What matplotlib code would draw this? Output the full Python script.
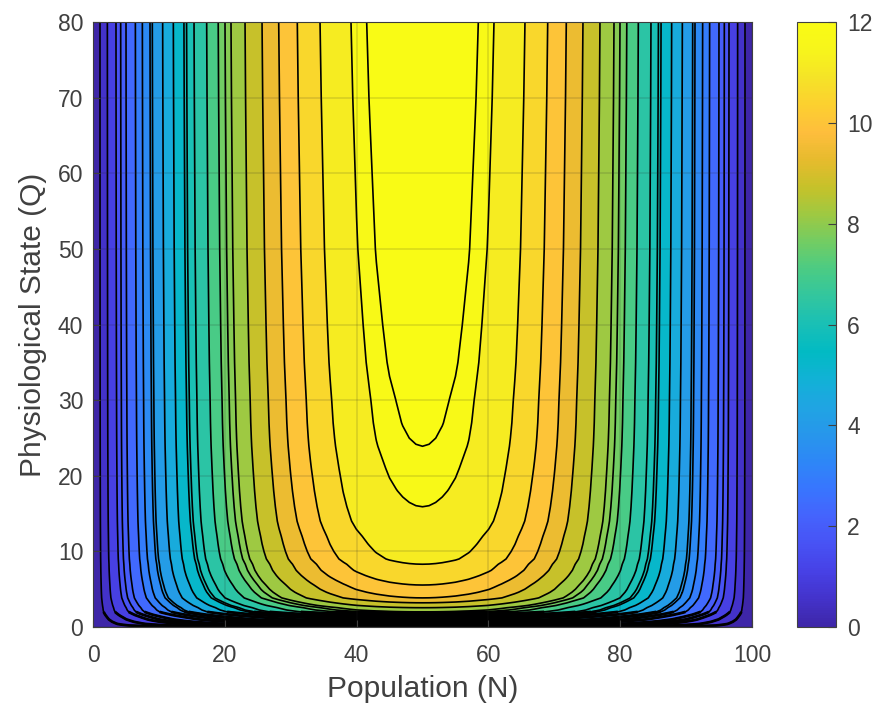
import numpy as np
import matplotlib
matplotlib.use('Agg')
import matplotlib.pyplot as plt
from matplotlib.colors import LinearSegmentedColormap, Normalize
from matplotlib.cm import ScalarMappable

plt.rcParams['font.family'] = ['Liberation Sans', 'DejaVu Sans']

# Values
levels = [0.52, 1.06, 1.67, 1.99, 2.35, 2.97, 3.42, 3.9, 4.05, 4.68, 5.29, 5.88, 6.02,
          6.4, 7.05, 7.6, 7.91, 8.17, 8.75, 9.42, 10.0, 10.57, 11.16, 11.78, 12.0]
# profile along the top edge (Q = 80), left half, mirrored below
n_left = [0, 1.06, 2.18, 3.49, 4.2, 5.01, 6.43, 7.49, 8.65, 9.0, 10.57, 12.19, 13.8,
          14.2, 15.33, 17.25, 19.0, 20.03, 20.94, 23.07, 25.65, 28.18, 31.0, 34.45,
          39.15, 41.53]
z_left = [0] + levels
n_centre = [30, 33, 36, 37, 38, 40, 42, 43, 44, 45, 46, 47, 48, 49, 50]
z_centre = [10.38, 10.93, 11.39, 11.52, 11.65, 11.87, 12.04, 12.12, 12.18, 12.24, 12.28,
            12.315, 12.34, 12.355, 12.36]
# profile along N = 50
q_vals = [0, 0.1, 0.2, 0.4, 0.7, 1.0, 1.3, 1.6, 1.8, 2.0, 2.25, 2.55, 2.85, 3.2, 3.85, 4.6,
          5.0, 5.55, 6.2, 6.8, 7.5, 8.3, 9, 10, 11, 12, 13, 14, 15.9, 18, 21, 23.9, 25, 27,
          30, 35, 40, 50, 60, 70, 80]
z_q = [0, 1.4, 2.5, 3.6, 4.6, 5.5, 6.2, 7.05, 7.6, 8.17, 8.5, 8.75, 9.1, 9.42, 10.0, 10.3,
       10.43, 10.57, 10.75, 10.9, 11.05, 11.16, 11.3, 11.4, 11.48, 11.55, 11.63, 11.7,
       11.78, 11.85, 11.93, 12.0, 12.02, 12.05, 12.08, 12.14, 12.18, 12.25, 12.29, 12.33,
       12.36]
x_ticks = [0, 20, 40, 60, 80, 100]
y_ticks = [0, 10, 20, 30, 40, 50, 60, 70, 80]
cb_ticks = [0, 2, 4, 6, 8, 10, 12]

parula = LinearSegmentedColormap.from_list('parula', [
    (0.2422, 0.1504, 0.6603), (0.2647, 0.1978, 0.7952), (0.2783, 0.2559, 0.8991),
    (0.2810, 0.3228, 0.9579), (0.2699, 0.3892, 0.9906), (0.2206, 0.4603, 0.9973),
    (0.1786, 0.5289, 0.9682), (0.1540, 0.5902, 0.9218), (0.1248, 0.6459, 0.8883),
    (0.0689, 0.6948, 0.8394), (0.0067, 0.7312, 0.7660), (0.0964, 0.7500, 0.7120),
    (0.1938, 0.7758, 0.6251), (0.2906, 0.7973, 0.5188), (0.4456, 0.8024, 0.3909),
    (0.6174, 0.7876, 0.2612), (0.7738, 0.7598, 0.1646), (0.9035, 0.7330, 0.1774),
    (0.9956, 0.7434, 0.2371), (0.9892, 0.8136, 0.1885), (0.9610, 0.8890, 0.1537),
    (0.9691, 0.9606, 0.1064), (0.9769, 0.9839, 0.0805)], N=256)

# left half from the contour crossings, centre samples merged in, then mirrored
half = sorted(zip(n_left + n_centre[:-1], z_left + z_centre[:-1]))
n_half = [p[0] for p in half]
z_half = [p[1] for p in half]
n_vals = np.array(n_half + [n_centre[-1]] + [100 - v for v in n_half[::-1]])
z_n = np.array(z_half + [z_centre[-1]] + z_half[::-1])
q_arr = np.array(q_vals)
Z = np.outer(np.array(z_q) / z_centre[-1], z_n)

GRAY = '#404040'
W, H = 876, 703
fig = plt.figure(figsize=(W / 100, H / 100), dpi=100)
ax = fig.add_axes([93 / W, 1 - 627 / H, (752 - 93) / W, (627 - 22) / H])

norm = Normalize(0, 12)
bounds = [0] + levels + [20]
fill_colors = [parula(norm(v)) for v in bounds[:-1]]
ax.contourf(n_vals, q_vals, Z, levels=bounds, colors=fill_colors)
ax.contour(n_vals, q_vals, Z, levels=levels, colors='k', linewidths=1.2)
# lines pile up into a solid black band near Q = 0
low = q_arr <= 2.0
ax.contour(n_vals, q_arr[low], Z[low], levels=levels, colors='k', linewidths=2.0)

ax.set_xlim(0, 100)
ax.set_ylim(0, 80)
ax.set_xticks(x_ticks)
ax.set_yticks(y_ticks)
ax.grid(True, color='#262626', alpha=0.15, linewidth=1.2)
ax.set_axisbelow(False)
ax.tick_params(axis='both', direction='in', length=5, width=0.8, color=GRAY, labelcolor=GRAY,
               labelsize=16.5, top=False, right=False)
ax.tick_params(axis='x', pad=12)
ax.tick_params(axis='y', pad=7)
for s in ax.spines.values():
    s.set_color(GRAY)
    s.set_linewidth(0.8)
ax.set_xlabel('Population (N)', fontsize=21.5, color=GRAY, labelpad=6)
ax.set_ylabel('Physiological State (Q)', fontsize=21.5, color=GRAY, labelpad=8)

cax = fig.add_axes([797 / W, 1 - 627 / H, (836 - 797) / W, (627 - 22) / H])
cb = fig.colorbar(ScalarMappable(norm=norm, cmap=parula), cax=cax)
cb.set_ticks(cb_ticks)
cax.tick_params(direction='in', length=6, width=0.8, color=GRAY, labelcolor=GRAY,
                labelsize=16.5, pad=8)
cb.outline.set_edgecolor(GRAY)
cb.outline.set_linewidth(0.8)

fig.savefig('out.png', dpi=100)
